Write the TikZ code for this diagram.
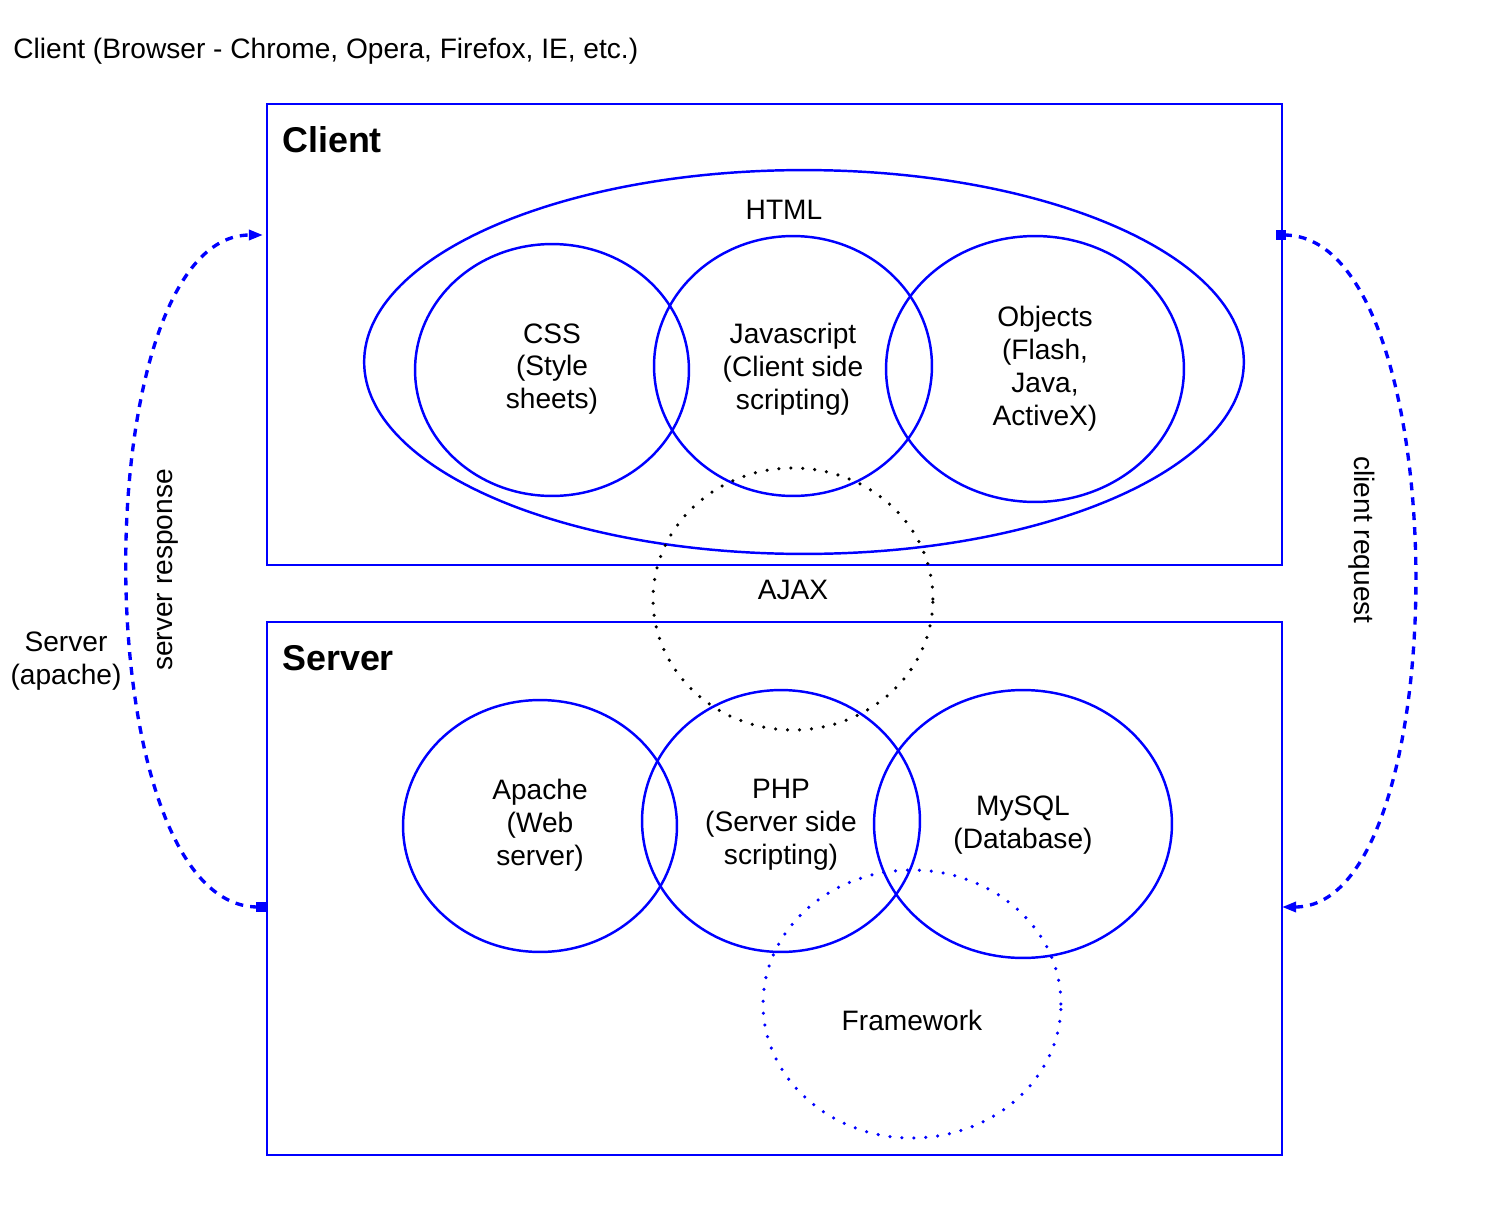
\documentclass[tikz,border=0pt]{standalone}
\usepackage{fontspec}
\setmainfont{Liberation Sans}
\usetikzlibrary{shapes.geometric,arrows.meta}
\tikzset{
    tier/.style={draw=blue, line width=0.8pt, inner sep=0pt},
    tech/.style={ellipse, draw=blue, line width=1.4pt, inner sep=0pt},
    glue/.style={ellipse, line width=2pt, line cap=round, dash pattern=on 0pt off 6.8pt, inner sep=0pt},
    txt/.style={align=center, font=\fontsize{16}{18.7}\selectfont, inner sep=0pt},
    head/.style={anchor=base west, font=\fontsize{20.4}{24}\selectfont\bfseries, inner sep=0pt},
    flow/.style={draw=blue, line width=1.9pt, dash pattern=on 4.5pt off 4pt,
        {Square[length=5.5pt,width=5.5pt]}-{Triangle[length=8pt,width=5.7pt]}}
}
\begin{document}
\begin{tikzpicture}[x=0.02cm,y=-0.02cm]
        \useasboundingbox (0,0) rectangle (1499,1214);
        % tiers
        \node[tier, minimum width=20.3cm, minimum height=9.22cm] (clientbox) at (774.5,334.5) {};
        \node[tier, minimum width=20.3cm, minimum height=10.66cm] (serverbox) at (774.5,888.5) {};
        \node[head] (clienthead) at (282,152) {Client};
        \node[head] (serverhead) at (282,670) {Server};
        \node[txt, anchor=base west] (browser) at (13,58) {Client (Browser - Chrome, Opera, Firefox, IE, etc.)};
        % technologies
        \foreach \x/\y/\n/\a/\b in {804/362/html/440/192,552/370/css/137/126,793/366/js/139/130,1035/369/obj/149/133,540/826/apache/137/126,781/821/php/139/131,1023/824/mysql/149/134}{
            \node[tech, minimum width=\a*0.04cm, minimum height=\b*0.04cm] (\n) at (\x,\y) {};
        }
        \node[glue, draw=black, minimum width=5.6cm, minimum height=5.24cm] (ajax) at (793,599) {};
        \node[glue, draw=blue, minimum width=5.96cm, minimum height=5.36cm] (fw) at (912,1004) {};
        % labels
        \foreach \x/\y/\n/\l in {784/210/htmltxt/HTML,552/369/csstxt/CSS\\(Style\\sheets),793/369/jstxt/Javascript\\(Client side\\scripting),{1045/369/objtxt/Objects\\(Flash,\\Java,\\ActiveX)},793/590/ajaxtxt/AJAX,540/825/apachetxt/Apache\\(Web\\server),781/825/phptxt/PHP\\(Server side\\scripting),1023/825/mysqltxt/MySQL\\(Database),912/1020/fwtxt/Framework,66/661/apachesrv/Server\\(apache)}{
            \node[txt] (\n) at (\x,\y) {\l};
        }
        \node[txt, rotate=90] (restxt) at (168,570) {server response};
        \node[txt, rotate=-90] (reqtxt) at (1362,540) {client request};
        % request / response
        \coordinate (resS) at (266,907);
        \coordinate (resE) at (263,235);
        \coordinate (reqS) at (1276,235);
        \coordinate (reqE) at (1282,907);
        \draw[flow] (resS) .. controls (83,907) and (83,235) .. (resE);
        \draw[flow] (reqS) .. controls (1458,235) and (1458,907) .. (reqE);
    \end{tikzpicture}
\end{document}
